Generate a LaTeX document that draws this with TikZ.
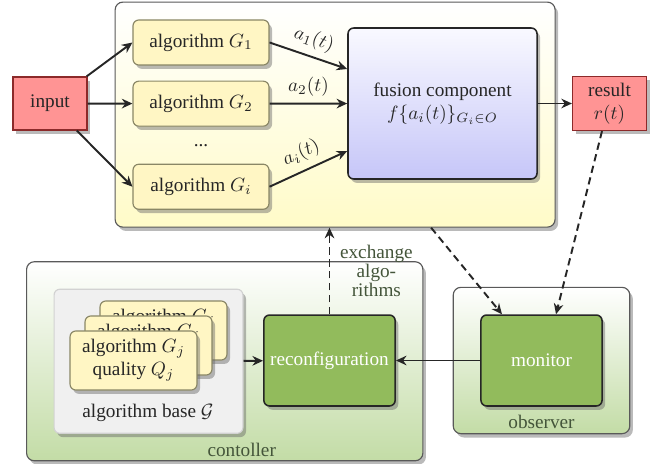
\documentclass[tikz,border=0pt]{standalone}
\usepackage[no-math]{fontspec}
\setmainfont{Liberation Serif}
\usepackage{xcolor}
\usepackage{tikz}
\usetikzlibrary{arrows.meta,backgrounds,calc,fit,positioning,shadows}
\definecolor{inred}{HTML}{FF9494}
\definecolor{inredborder}{HTML}{8C2A2A}
\definecolor{algyellow}{HTML}{FFF6C4}
\definecolor{algborder}{HTML}{8A8766}
\definecolor{fusionblue}{HTML}{C6C6F8}
\definecolor{fusiontop}{HTML}{F9F9FF}
\definecolor{grpyellow}{HTML}{FFFBC8}
\definecolor{ctrlgreen}{HTML}{92BB5C}
\definecolor{ctrlpale}{HTML}{C3DCA6}
\definecolor{basegray}{HTML}{F0F0F0}
\definecolor{baseborder}{HTML}{D2D2D2}
\definecolor{darkgray}{HTML}{262626}
\definecolor{labelgreen}{HTML}{44553A}
\pgfdeclarelayer{groups}
\pgfdeclarelayer{inner}
\pgfsetlayers{groups,inner,main}
\tikzset{
  shadowed/.style={drop shadow={shadow xshift=1.6pt,shadow yshift=-2pt,opacity=0.45,fill=black!60}},
  io/.style={rectangle,draw=inredborder,fill=inred,semithick,minimum width=38.5pt,
    minimum height=27.6pt,align=center,text=darkgray,shadowed},
  alg/.style={rectangle,rounded corners=3pt,draw=algborder,fill=algyellow,semithick,
    minimum width=70.7pt,minimum height=23.4pt,align=center,text=darkgray,shadowed},
  card/.style={alg,minimum width=66pt,minimum height=30.7pt},
  fusionbox/.style={rectangle,rounded corners=3pt,draw=darkgray,thick,top color=fusiontop,
    bottom color=fusionblue,minimum width=98.3pt,minimum height=78.5pt,align=center,
    text=darkgray,shadowed},
  active/.style={rectangle,rounded corners=3pt,draw=black!85,fill=ctrlgreen,thick,
    minimum width=63pt,minimum height=47.3pt,text=white,shadowed},
  group/.style={rectangle,rounded corners=4pt,draw=black!65,semithick,top color=white,
    bottom color=#1,shadowed},
  group/.default=grpyellow,
  basegroup/.style={rectangle,rounded corners=3pt,draw=baseborder,fill=basegray,semithick,shadowed},
  arrow/.style={-{Stealth[length=5.5pt,width=5pt]},line width=1pt,draw=darkgray},
  feedback/.style={arrow,dash pattern=on 3.8pt off 2.4pt},
  edgelabel/.style={font=\normalsize,text=darkgray},
  grouplabel/.style={text=labelgreen,inner sep=0pt}
}

\begin{document}
\begin{tikzpicture}[x=0.52pt,y=-0.52pt]
\useasboundingbox (0,0) rectangle (660,464);

% input, algorithms and fusion
\node[io] (input) at (50,103.5) {input};
\node[alg] (g1) at (201,42.5) {algorithm $G_1$};
\node[alg,below=7.8pt of g1] (g2) {algorithm $G_2$};
\node[alg,below=19.2pt of g2] (gi) {algorithm $G_i$};
\node[text=darkgray] (dots) at ($(g2.south)!0.5!(gi.north)$) {...};
\node[fusionbox] (fusion) at (442.5,103.5) {fusion component\\$f\{a_i(t)\}_{G_i\in O}$};
\node[io] (result) at (609.5,103.5) {result\\$r(t)$};
\coordinate (in1) at ($(fusion.west)+(0,-34.5)$);
\coordinate (ini) at ($(fusion.west)+(0,47.5)$);

\draw[arrow] (input) -- (g1.west);
\draw[arrow] (input) -- (g2);
\draw[arrow] (input) -- (gi.west);
\draw[arrow] (g1.east) -- node[above,sloped,edgelabel] {$a_1(t)$} (in1);
\draw[arrow] (g2) -- node[above,edgelabel] {$a_2(t)$} (fusion);
\draw[arrow] (gi.east) -- node[above,sloped,edgelabel] {$a_i(t)$} (ini);
\draw[arrow] (fusion) -- (result);

% algorithm base with stacked cards
\foreach \k in {2,1,0}
  \node[card] (card\k) at ($(133.5,360.5)+(15*\k,-15*\k)$) {algorithm $G_j$\\quality $Q_j$};
\node[text=darkgray,inner sep=0pt] (baselabel) at (148,413) {algorithm base $\mathcal{G}$};
\node[active] (reconf) at (329.5,360.5) {reconfiguration};
\node[active] (monitor) at (541.5,360.5) {monitor};

\begin{pgfonlayer}{inner}
  \node[basegroup,fit=(card0)(card2)(baselabel),inner xsep=8pt,inner ysep=5.8pt] (base) {};
\end{pgfonlayer}
\begin{pgfonlayer}{groups}
  \node[group,fit=(g1)(gi)(fusion),inner sep=9pt] (fusiongroup) {};
  \node[group=ctrlpale,fit=(base)(reconf),inner sep=14pt] (controller) {};
  \node[group=ctrlpale,fit=(monitor),inner sep=14pt] (observer) {};
\end{pgfonlayer}
\node[grouplabel,anchor=base] (ctrllabel) at ($(controller.south)+(17,-4.5)$) {contoller};
\node[grouplabel,anchor=base] (obslabel) at ($(observer.south)+(0,-6)$) {observer};

\draw[arrow] (base) -- (reconf);
\draw[arrow] (monitor) -- (reconf);

% feedback paths
\draw[feedback] (reconf.north) -- node[right=5pt,grouplabel,align=center,
  font=\fontsize{10}{9.9}\selectfont] {exchange\\algo-\\rithms} (reconf.north |- fusiongroup.south);
\draw[feedback] ($(fusiongroup.south)+(96,0)$) -- ($(monitor.north)+(-39.5,0)$);
\draw[feedback] ($(result.south)+(-7.5,0)$) -- ($(monitor.north)+(14.5,0)$);
\end{tikzpicture}
\end{document}
